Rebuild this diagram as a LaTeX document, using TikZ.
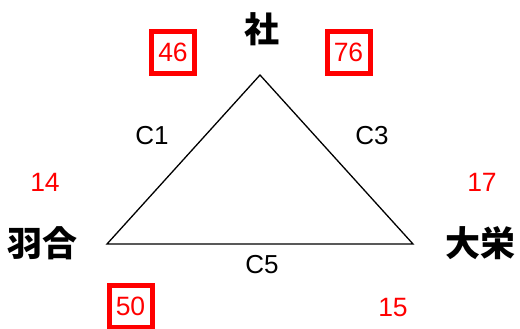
\documentclass[tikz,border=0pt]{standalone}
\usepackage{fontspec}
\setmainfont{Liberation Sans}
\newfontfamily\cjk{Noto Sans CJK JP}
\usetikzlibrary{positioning}

\begin{document}
\begin{tikzpicture}[
				x=1pt, y=-1pt,
				town/.style={
					inner sep=0pt,
					font=\cjk\bfseries\fontsize{35}{35}\selectfont
				},
				edgelabel/.style={
					inner sep=0pt,
					font=\fontsize{26}{26}\selectfont
				},
				cost/.style={
					inner sep=0pt,
					text=red,
					font=\fontsize{26.5}{26.5}\selectfont
				},
				boxed/.style={
					cost,
					draw=red,
					line width=5pt,
					minimum width=43pt,
					minimum height=42pt
				}
				]
				\useasboundingbox (0,0) rectangle (520,329);
				
				% Triangle corners
				\coordinate (vtop) at (260,75);
				\coordinate (vleft) at (107,244);
				\coordinate (vright) at (413,244);
				
				\draw[line width=1.3pt, line join=miter] (vtop) -- (vleft) -- (vright) -- cycle;
				
				% Towns
				\node[town] (sha) at (262,29) {社};
				\node[town] (hawai) at (43,243) {羽合};
				\node[town] (daiei) at (480,243) {大栄};
				
				% Edge names
				\node[edgelabel] (c1) at (152,136) {C1};
				\node[edgelabel] (c3) at (372,136) {C3};
				\node[edgelabel] (c5) at (262,265) {C5};
				
				% Numbers
				\node[boxed] (n46) at (173,52.5) {46};
				\node[boxed] (n76) at (348.5,52.5) {76};
				\node[boxed] (n50) at (130.5,306) {50};
				\node[cost] (n14) at (45,182) {14};
				\node[cost] (n17) at (482,182) {17};
				\node[cost] (n15) at (393,308) {15};
				
			\end{tikzpicture}
\end{document}
